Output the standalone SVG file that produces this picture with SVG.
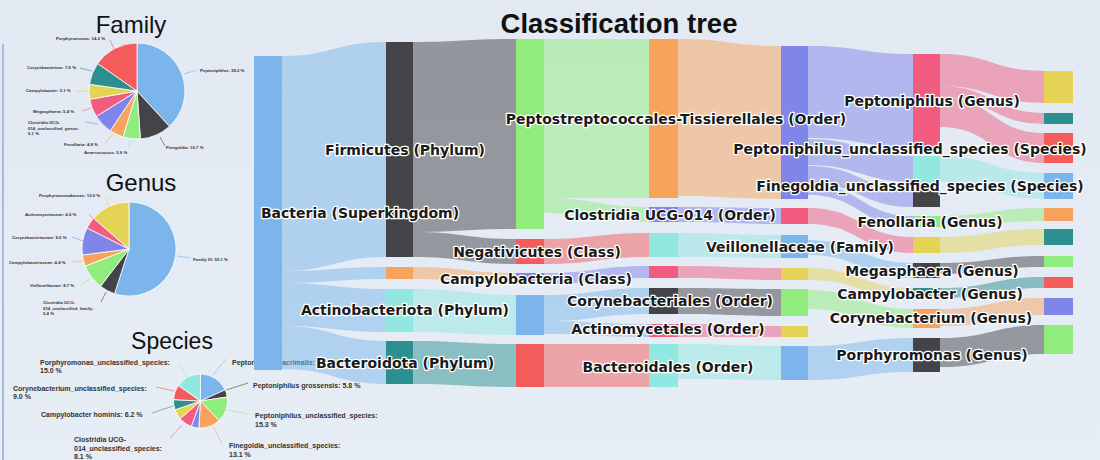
<svg xmlns="http://www.w3.org/2000/svg" width="1100" height="460" viewBox="0 0 1100 460">
<defs>
<linearGradient id="bg" x1="0" y1="0" x2="0" y2="1">
<stop offset="0" stop-color="#e2e9f3"/>
<stop offset="1" stop-color="#e7edf5"/>
</linearGradient>
</defs>
<style>
.ttl{font-family:"Liberation Sans",Arial,sans-serif;fill:#111}
.pl{font-family:"Liberation Sans",Arial,sans-serif;font-size:4.3px;font-weight:bold;fill:#333}
.sl{font-family:"Liberation Sans",Arial,sans-serif;font-size:7px;font-weight:bold;fill:#333}
.ld{fill:none;stroke-width:0.6}
.sp{stroke:#fff;stroke-width:0.8}
.nl{font-family:"DejaVu Sans","Liberation Sans",sans-serif;font-size:14px;font-weight:bold;fill:#1a1a1a;stroke:#fff;stroke-width:2.6;stroke-linejoin:round;paint-order:stroke;text-anchor:middle}
.lk path{fill-opacity:0.5}
.c-blue{fill:#7cb5ec}.c-dark{fill:#434348}.c-green{fill:#90ed7d}.c-orange{fill:#f7a35c}.c-purple{fill:#8085e9}.c-pink{fill:#f15c80}.c-yellow{fill:#e4d354}.c-teal{fill:#2b908f}.c-red{fill:#f45b5b}.c-turq{fill:#91e8e1}
</style>
<rect width="1100" height="460" fill="url(#bg)"/>
<line x1="3" y1="44" x2="3" y2="460" stroke="#97abd0" stroke-width="1.5"/>

<text class="ttl" x="619" y="33" font-size="27.5" font-weight="bold" text-anchor="middle">Classification tree</text>

<!-- Family pie -->
<g id="pie-family">
<text class="ttl" x="131" y="33" font-size="24" text-anchor="middle">Family</text>
<path class="c-blue sp" d="M137 91 L137 43 A48 48 0 0 1 169.4 126.4 Z"/>
<path class="c-dark sp" d="M137 91 L169.4 126.4 A48 48 0 0 1 140.4 138.9 Z"/>
<path class="c-green sp" d="M137 91 L140.4 138.9 A48 48 0 0 1 123 136.9 Z"/>
<path class="c-orange sp" d="M137 91 L123 136.9 A48 48 0 0 1 110.2 130.8 Z"/>
<path class="c-purple sp" d="M137 91 L110.2 130.8 A48 48 0 0 1 96.3 116.4 Z"/>
<path class="c-pink sp" d="M137 91 L96.3 116.4 A48 48 0 0 1 89.7 99.3 Z"/>
<path class="c-yellow sp" d="M137 91 L89.7 99.3 A48 48 0 0 1 89.5 84.3 Z"/>
<path class="c-teal sp" d="M137 91 L89.5 84.3 A48 48 0 0 1 97.7 63.5 Z"/>
<path class="c-red sp" d="M137 91 L97.7 63.5 A48 48 0 0 1 137 43 Z"/>
<path class="ld" stroke="#7cb5ec" d="M184 74 L197 70"/>
<path class="ld" stroke="#434348" d="M160 137 L165 146"/>
<path class="ld" stroke="#90ed7d" d="M130 140 L129 148"/>
<path class="ld" stroke="#f7a35c" d="M113 134 L105 143"/>
<path class="ld" stroke="#8085e9" d="M98 124 L85 122"/>
<path class="ld" stroke="#f15c80" d="M91 108 L82 111"/>
<path class="ld" stroke="#e4d354" d="M89 91 L76 91"/>
<path class="ld" stroke="#2b908f" d="M92 71 L80 68"/>
<path class="ld" stroke="#f45b5b" d="M114 49 L110 40"/>
<text class="pl" x="200" y="72">Peptoniphilus: 38.2 %</text>
<text class="pl" x="166" y="149">Finegoldia: 10.7 %</text>
<text class="pl" x="84" y="154">Anaerococcus: 5.9 %</text>
<text class="pl" x="64" y="146">Fenollaria: 4.8 %</text>
<text class="pl" x="28" y="124">Clostridia UCG-</text>
<text class="pl" x="28" y="129.5">014_unclassified_genus:</text>
<text class="pl" x="28" y="135">6.1 %</text>
<text class="pl" x="33" y="113">Megasphaera: 5.4 %</text>
<text class="pl" x="26" y="92">Campylobacter: 5.1 %</text>
<text class="pl" x="27" y="69">Corynebacterium: 7.6 %</text>
<text class="pl" x="56" y="40">Porphyromonas: 14.2 %</text>
</g>

<!-- Genus pie -->
<g id="pie-genus">
<text class="ttl" x="141" y="191" font-size="24" text-anchor="middle">Genus</text>
<path class="c-blue sp" d="M129 249 L129 202 A47 47 0 1 1 114.5 293.7 Z"/>
<path class="c-dark sp" d="M129 249 L114.5 293.7 A47 47 0 0 1 100.5 286.3 Z"/>
<path class="c-green sp" d="M129 249 L100.5 286.3 A47 47 0 0 1 85.2 266.1 Z"/>
<path class="c-orange sp" d="M129 249 L85.2 266.1 A47 47 0 0 1 82.4 255 Z"/>
<path class="c-purple sp" d="M129 249 L82.4 255 A47 47 0 0 1 87 227.9 Z"/>
<path class="c-pink sp" d="M129 249 L87 227.9 A47 47 0 0 1 93.5 218.2 Z"/>
<path class="c-yellow sp" d="M129 249 L93.5 218.2 A47 47 0 0 1 129 202 Z"/>
<path class="ld" stroke="#7cb5ec" d="M177 256 L191 258"/>
<path class="ld" stroke="#434348" d="M106 292 L101 302"/>
<path class="ld" stroke="#90ed7d" d="M90 279 L81 285"/>
<path class="ld" stroke="#f7a35c" d="M83 261 L72 262"/>
<path class="ld" stroke="#8085e9" d="M83 241 L72 237"/>
<path class="ld" stroke="#f15c80" d="M96 222 L89 214"/>
<path class="ld" stroke="#e4d354" d="M108 206 L106 197"/>
<text class="pl" x="193" y="261">Family XI: 55.1 %</text>
<text class="pl" x="43" y="304">Clostridia UCG-</text>
<text class="pl" x="43" y="309.5">014_unclassified_family:</text>
<text class="pl" x="43" y="315">5.4 %</text>
<text class="pl" x="30" y="287">Veillonellaceae: 8.7 %</text>
<text class="pl" x="9" y="264">Campylobacteraceae: 4.4 %</text>
<text class="pl" x="12" y="238.5">Corynebacteriaceae: 9.6 %</text>
<text class="pl" x="25" y="215.5">Actinomycetaceae: 4.0 %</text>
<text class="pl" x="39" y="197">Porphyromonadaceae: 12.6 %</text>
</g>

<!-- Species pie -->
<g id="pie-species">
<text class="ttl" x="172" y="349" font-size="23" text-anchor="middle">Species</text>
<path class="c-blue sp" d="M200.5 401 L200.5 374 A27 27 0 0 1 225.1 389.8 Z"/>
<path class="c-dark sp" d="M200.5 401 L225.1 389.8 A27 27 0 0 1 227.2 397 Z"/>
<path class="c-green sp" d="M200.5 401 L227.2 397 A27 27 0 0 1 219.1 420.6 Z"/>
<path class="c-orange sp" d="M200.5 401 L219.1 420.6 A27 27 0 0 1 198.8 428 Z"/>
<path class="c-purple sp" d="M200.5 401 L198.8 428 A27 27 0 0 1 191.3 426.4 Z"/>
<path class="c-pink sp" d="M200.5 401 L191.3 426.4 A27 27 0 0 1 180.1 418.7 Z"/>
<path class="c-yellow sp" d="M200.5 401 L180.1 418.7 A27 27 0 0 1 175 409.8 Z"/>
<path class="c-teal sp" d="M200.5 401 L175 409.8 A27 27 0 0 1 173.5 399.6 Z"/>
<path class="c-red sp" d="M200.5 401 L173.5 399.6 A27 27 0 0 1 178.4 385.5 Z"/>
<path class="c-turq sp" d="M200.5 401 L178.4 385.5 A27 27 0 0 1 200.5 374 Z"/>
<path class="ld" stroke="#7cb5ec" d="M213 375 L226 359"/>
<path class="ld" stroke="#434348" d="M226 390 L248 383"/>
<path class="ld" stroke="#90ed7d" d="M228 410 L249 414"/>
<path class="ld" stroke="#f7a35c" d="M213 426 L222 444"/>
<path class="ld" stroke="#f15c80" d="M182 425 L170 438"/>
<path class="ld" stroke="#2b908f" d="M173 406 L152 413"/>
<path class="ld" stroke="#f45b5b" d="M174 391 L156 387"/>
<path class="ld" stroke="#91e8e1" d="M188 380 L180 364"/>
<text class="sl" x="232" y="364.5">Peptoniphilus lacrimalis: 18.2 %</text>
<text class="sl" x="253" y="388">Peptoniphilus grossensis: 5.8 %</text>
<text class="sl" x="255" y="418">Peptoniphilus_unclassified_species:</text>
<text class="sl" x="255" y="426.5">15.3 %</text>
<text class="sl" x="229" y="448">Finegoldia_unclassified_species:</text>
<text class="sl" x="229" y="456.5">13.1 %</text>
<text class="sl" x="74" y="442">Clostridia UCG-</text>
<text class="sl" x="74" y="450.5">014_unclassified_species:</text>
<text class="sl" x="74" y="459">8.1 %</text>
<text class="sl" x="41" y="416.5">Campylobacter hominis: 6.2 %</text>
<text class="sl" x="13" y="390.5">Corynebacterium_unclassified_species:</text>
<text class="sl" x="13" y="399">9.0 %</text>
<text class="sl" x="40" y="364.5">Porphyromonas_unclassified_species:</text>
<text class="sl" x="40" y="373">15.0 %</text>
</g>

<!-- Sankey connectors -->
<g id="links" class="lk">
<path class="c-blue" d="M282 56 C334 56 334 42 386 42 L386 257 C334 257 334 271 282 271 Z"/>
<path class="c-blue" d="M282 271 C334 271 334 267 386 267 L386 279 C334 279 334 283 282 283 Z"/>
<path class="c-blue" d="M282 283 C334 283 334 289 386 289 L386 332 C334 332 334 326 282 326 Z"/>
<path class="c-blue" d="M282 326 C334 326 334 341 386 341 L386 384 C334 384 334 369 282 369 Z"/>

<path class="c-dark" d="M413 42 C464.5 42 464.5 39 516 39 L516 229 C464.5 229 464.5 232 413 232 Z"/>
<path class="c-dark" d="M413 232 C464.5 232 464.5 239 516 239 L516 264 C464.5 264 464.5 257 413 257 Z"/>
<path class="c-orange" d="M413 267 C464.5 267 464.5 273 516 273 L516 284 C464.5 284 464.5 279 413 279 Z"/>
<path class="c-turq" d="M413 289 C464.5 289 464.5 295 516 295 L516 335 C464.5 335 464.5 332 413 332 Z"/>
<path class="c-teal" d="M413 341 C464.5 341 464.5 344 516 344 L516 387 C464.5 387 464.5 384 413 384 Z"/>

<path class="c-green" d="M544 39 C596.5 39 596.5 39 649 39 L649 198 C596.5 198 596.5 198 544 198 Z"/>
<path class="c-green" d="M544 198 C596.5 198 596.5 207 649 207 L649 222 C596.5 222 596.5 213 544 213 Z"/>
<path class="c-red" d="M544 239 C596.5 239 596.5 233 649 233 L649 257 C596.5 257 596.5 264 544 264 Z"/>
<path class="c-purple" d="M544 273 C596.5 273 596.5 266 649 266 L649 278 C596.5 278 596.5 284 544 284 Z"/>
<path class="c-blue" d="M544 295 C596.5 295 596.5 288 649 288 L649 314 C596.5 314 596.5 321 544 321 Z"/>
<path class="c-blue" d="M544 321 C596.5 321 596.5 324 649 324 L649 337 C596.5 337 596.5 334 544 334 Z"/>
<path class="c-red" d="M544 344 C596.5 344 596.5 344 649 344 L649 387 C596.5 387 596.5 387 544 387 Z"/>

<path class="c-orange" d="M678 39 C729.5 39 729.5 46 781 46 L781 199 C729.5 199 729.5 196 678 196 Z"/>
<path class="c-purple" d="M678 207 C729.5 207 729.5 208 781 208 L781 224 C729.5 224 729.5 222 678 222 Z"/>
<path class="c-turq" d="M678 233 C729.5 233 729.5 235 781 235 L781 258 C729.5 258 729.5 257 678 257 Z"/>
<path class="c-pink" d="M678 266 C729.5 266 729.5 268 781 268 L781 280 C729.5 280 729.5 278 678 278 Z"/>
<path class="c-dark" d="M678 288 C729.5 288 729.5 289 781 289 L781 316 C729.5 316 729.5 314 678 314 Z"/>
<path class="c-pink" d="M678 324 C729.5 324 729.5 326 781 326 L781 337 C729.5 337 729.5 337 678 337 Z"/>
<path class="c-turq" d="M678 344 C729.5 344 729.5 346 781 346 L781 380 C729.5 380 729.5 379 678 379 Z"/>

<path class="c-purple" d="M808 46 C860.5 46 860.5 54 913 54 L913 147 C860.5 147 860.5 138 808 138 Z"/>
<path class="c-purple" d="M808 139 C860.5 139 860.5 156 913 156 L913 182 C860.5 182 860.5 165 808 165 Z"/>
<path class="c-purple" d="M808 166 C860.5 166 860.5 190 913 190 L913 207 C860.5 207 860.5 183 808 183 Z"/>
<path class="c-purple" d="M808 184 C860.5 184 860.5 216 913 216 L913 227 C860.5 227 860.5 195 808 195 Z"/>
<path class="c-pink" d="M808 208 C860.5 208 860.5 237 913 237 L913 253 C860.5 253 860.5 224 808 224 Z"/>
<path class="c-blue" d="M808 240 C860.5 240 860.5 263 913 263 L913 278 C860.5 278 860.5 255 808 255 Z"/>
<path class="c-yellow" d="M808 268 C860.5 268 860.5 288 913 288 L913 298 C860.5 298 860.5 280 808 280 Z"/>
<path class="c-green" d="M808 290 C860.5 290 860.5 309 913 309 L913 328 C860.5 328 860.5 309 808 309 Z"/>
<path class="c-blue" d="M808 346 C860.5 346 860.5 338 913 338 L913 372 C860.5 372 860.5 380 808 380 Z"/>

<path class="c-pink" d="M940 54 C992 54 992 71 1044 71 L1044 103 C992 103 992 86 940 86 Z"/>
<path class="c-pink" d="M940 86 C992 86 992 113 1044 113 L1044 124 C992 124 992 97 940 97 Z"/>
<path class="c-pink" d="M940 97 C992 97 992 133 1044 133 L1044 163 C992 163 992 127 940 127 Z"/>
<path class="c-turq" d="M940 156 C992 156 992 173 1044 173 L1044 199 C992 199 992 182 940 182 Z"/>
<path class="c-green" d="M940 216 C992 216 992 208 1044 208 L1044 221 C992 221 992 227 940 227 Z"/>
<path class="c-yellow" d="M940 237 C992 237 992 229 1044 229 L1044 245 C992 245 992 253 940 253 Z"/>
<path class="c-dark" d="M940 263 C992 263 992 256 1044 256 L1044 267 C992 267 992 274 940 274 Z"/>
<path class="c-teal" d="M940 288 C992 288 992 277 1044 277 L1044 288 C992 288 992 298 940 298 Z"/>
<path class="c-orange" d="M940 309 C992 309 992 298 1044 298 L1044 315 C992 315 992 326 940 326 Z"/>
<path class="c-dark" d="M940 338 C992 338 992 325 1044 325 L1044 354 C992 354 992 367 940 367 Z"/>
</g>

<!-- Nodes -->
<g id="n-bacteria"><rect class="c-blue" x="254" y="56" width="28" height="314"/></g>
<g id="n-firmicutes"><rect class="c-dark" x="386" y="42" width="27" height="215"/></g>
<g id="n-campylobacterota"><rect class="c-orange" x="386" y="267" width="27" height="12"/></g>
<g id="n-actinobacteriota"><rect class="c-turq" x="386" y="289" width="27" height="43"/></g>
<g id="n-bacteroidota"><rect class="c-teal" x="386" y="341" width="27" height="43"/></g>

<g id="n-clostridia"><rect class="c-green" x="516" y="39" width="28" height="190"/></g>
<g id="n-negativicutes"><rect class="c-red" x="516" y="239" width="28" height="25"/></g>
<g id="n-campylobacteria"><rect class="c-purple" x="516" y="273" width="28" height="11"/></g>
<g id="n-actinomycetia"><rect class="c-blue" x="516" y="295" width="28" height="40"/></g>
<g id="n-bacteroidia"><rect class="c-red" x="516" y="344" width="28" height="43"/></g>

<g id="n-peptostrep"><rect class="c-orange" x="649" y="39" width="29" height="159"/></g>
<g id="n-ucg014-order"><rect class="c-purple" x="649" y="207" width="29" height="15"/></g>
<g id="n-veillonellales"><rect class="c-turq" x="649" y="233" width="29" height="24"/></g>
<g id="n-campylobacterales"><rect class="c-pink" x="649" y="266" width="29" height="12"/></g>
<g id="n-corynebacteriales"><rect class="c-dark" x="649" y="288" width="29" height="26"/></g>
<g id="n-actinomycetales"><rect class="c-pink" x="649" y="324" width="29" height="13"/></g>
<g id="n-bacteroidales"><rect class="c-turq" x="649" y="344" width="29" height="43"/></g>

<g id="n-peptoniphilaceae"><rect class="c-purple" x="781" y="46" width="27" height="153"/></g>
<g id="n-ucg014-family"><rect class="c-pink" x="781" y="208" width="27" height="16"/></g>
<g id="n-veillonellaceae"><rect class="c-blue" x="781" y="235" width="27" height="23"/></g>
<g id="n-campylobacteraceae"><rect class="c-yellow" x="781" y="268" width="27" height="12"/></g>
<g id="n-corynebacteriaceae"><rect class="c-green" x="781" y="289" width="27" height="27"/></g>
<g id="n-actinomycetaceae"><rect class="c-yellow" x="781" y="326" width="27" height="11"/></g>
<g id="n-porphyromonadaceae"><rect class="c-blue" x="781" y="346" width="27" height="34"/></g>

<g id="n-peptoniphilus"><rect class="c-pink" x="913" y="54" width="27" height="93"/></g>
<g id="n-finegoldia"><rect class="c-turq" x="913" y="156" width="27" height="28"/></g>
<g id="n-anaerococcus"><rect class="c-dark" x="913" y="190" width="27" height="17"/></g>
<g id="n-fenollaria"><rect class="c-green" x="913" y="216" width="27" height="11"/></g>
<g id="n-ucg014-genus"><rect class="c-yellow" x="913" y="237" width="27" height="16"/></g>
<g id="n-megasphaera"><rect class="c-dark" x="913" y="263" width="27" height="15"/></g>
<g id="n-campylobacter"><rect class="c-teal" x="913" y="288" width="27" height="10"/></g>
<g id="n-corynebacterium"><rect class="c-orange" x="913" y="309" width="27" height="19"/></g>
<g id="n-porphyromonas"><rect class="c-dark" x="913" y="338" width="27" height="34"/></g>

<g id="n-sp1"><rect class="c-yellow" x="1044" y="71" width="29" height="32"/></g>
<g id="n-sp2"><rect class="c-teal" x="1044" y="113" width="29" height="11"/></g>
<g id="n-sp3"><rect class="c-red" x="1044" y="133" width="29" height="30"/></g>
<g id="n-sp4"><rect class="c-blue" x="1044" y="173" width="29" height="26"/></g>
<g id="n-sp5"><rect class="c-orange" x="1044" y="208" width="29" height="13"/></g>
<g id="n-sp6"><rect class="c-teal" x="1044" y="229" width="29" height="16"/></g>
<g id="n-sp7"><rect class="c-green" x="1044" y="256" width="29" height="11"/></g>
<g id="n-sp8"><rect class="c-red" x="1044" y="277" width="29" height="11"/></g>
<g id="n-sp9"><rect class="c-purple" x="1044" y="298" width="29" height="17"/></g>
<g id="n-sp10"><rect class="c-green" x="1044" y="325" width="29" height="29"/></g>

<!-- Node labels -->
<g id="labels">
<text class="nl" x="360" y="218">Bacteria (Superkingdom)</text>
<text class="nl" x="405" y="155">Firmicutes (Phylum)</text>
<text class="nl" x="676" y="124">Peptostreptococcales-Tissierellales (Order)</text>
<text class="nl" x="537" y="257">Negativicutes (Class)</text>
<text class="nl" x="536" y="284">Campylobacteria (Class)</text>
<text class="nl" x="405" y="315">Actinobacteriota (Phylum)</text>
<text class="nl" x="405" y="368">Bacteroidota (Phylum)</text>
<text class="nl" x="670" y="220">Clostridia UCG-014 (Order)</text>
<text class="nl" x="800" y="252">Veillonellaceae (Family)</text>
<text class="nl" x="670" y="306">Corynebacteriales (Order)</text>
<text class="nl" x="668" y="334">Actinomycetales (Order)</text>
<text class="nl" x="668" y="372">Bacteroidales (Order)</text>
<text class="nl" x="932" y="106">Peptoniphilus (Genus)</text>
<text class="nl" x="910" y="154">Peptoniphilus_unclassified_species (Species)</text>
<text class="nl" x="920" y="191">Finegoldia_unclassified_species (Species)</text>
<text class="nl" x="930" y="227">Fenollaria (Genus)</text>
<text class="nl" x="932" y="276">Megasphaera (Genus)</text>
<text class="nl" x="930" y="299">Campylobacter (Genus)</text>
<text class="nl" x="931" y="323">Corynebacterium (Genus)</text>
<text class="nl" x="932" y="360">Porphyromonas (Genus)</text>
</g>
</svg>
